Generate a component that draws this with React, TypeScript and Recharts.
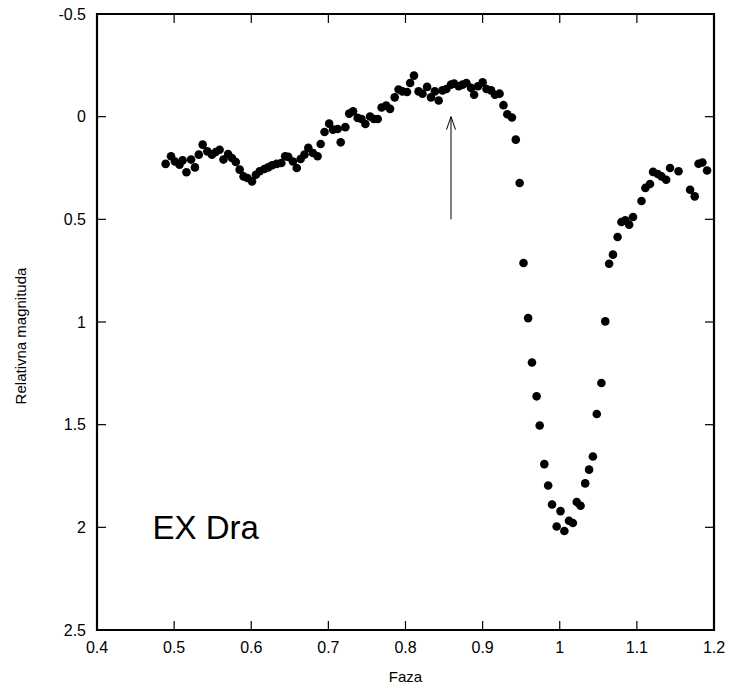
import React from 'react';
import { ScatterChart, Scatter, XAxis, YAxis, ReferenceLine, ReferenceDot } from 'recharts';

const phase = [
  0.489, 0.496, 0.501, 0.507, 0.511, 0.516, 0.522, 0.527, 0.532, 0.537,
  0.543, 0.549, 0.554, 0.559, 0.564, 0.570, 0.575, 0.580, 0.585, 0.590,
  0.595, 0.601, 0.606, 0.611, 0.617, 0.622, 0.627, 0.633, 0.639, 0.644,
  0.648, 0.654, 0.659, 0.664, 0.669, 0.674, 0.680, 0.686, 0.690, 0.695,
  0.701, 0.706, 0.712, 0.716, 0.722, 0.727, 0.732, 0.738, 0.743, 0.748,
  0.754, 0.759, 0.764, 0.769, 0.775, 0.780, 0.786, 0.791, 0.796, 0.802,
  0.806, 0.811, 0.817, 0.822, 0.828, 0.833, 0.838, 0.843, 0.848, 0.853,
  0.859, 0.863, 0.869, 0.874, 0.879, 0.885, 0.889, 0.894, 0.900, 0.905,
  0.911, 0.916, 0.922, 0.927, 0.932, 0.938, 0.943, 0.948, 0.953, 0.959,
  0.964, 0.970, 0.974, 0.980, 0.985, 0.990, 0.996, 1.001, 1.006, 1.012,
  1.017, 1.022, 1.027, 1.033, 1.038, 1.043, 1.048, 1.054, 1.059, 1.064,
  1.069, 1.075, 1.080, 1.085, 1.090, 1.095, 1.106, 1.111, 1.117, 1.121,
  1.127, 1.132, 1.138, 1.143, 1.154, 1.169, 1.175, 1.180, 1.185, 1.191,
];

const magnitude = [
  0.230, 0.193, 0.218, 0.234, 0.213, 0.271, 0.209, 0.247, 0.185, 0.136,
  0.169, 0.185, 0.172, 0.161, 0.209, 0.182, 0.201, 0.221, 0.258, 0.291,
  0.299, 0.315, 0.283, 0.266, 0.255, 0.247, 0.237, 0.230, 0.226, 0.193,
  0.196, 0.218, 0.250, 0.206, 0.185, 0.152, 0.177, 0.193, 0.133, 0.075,
  0.034, 0.063, 0.060, 0.125, 0.051, -0.015, -0.026, 0.006, 0.011, 0.036,
  -0.001, 0.011, 0.011, -0.045, -0.054, -0.038, -0.094, -0.132, -0.123, -0.120,
  -0.164, -0.200, -0.123, -0.112, -0.145, -0.094, -0.123, -0.079, -0.128, -0.135,
  -0.156, -0.161, -0.148, -0.156, -0.164, -0.140, -0.107, -0.148, -0.167, -0.135,
  -0.128, -0.107, -0.112, -0.056, -0.012, 0.004, 0.112, 0.323, 0.713, 0.981,
  1.197, 1.362, 1.504, 1.692, 1.796, 1.889, 1.996, 1.921, 2.018, 1.968,
  1.979, 1.877, 1.895, 1.786, 1.719, 1.655, 1.448, 1.297, 0.997, 0.716,
  0.672, 0.586, 0.513, 0.505, 0.526, 0.489, 0.411, 0.347, 0.328, 0.269,
  0.279, 0.291, 0.307, 0.250, 0.266, 0.356, 0.388, 0.229, 0.223, 0.262,
];

const xTicks = [0.4, 0.5, 0.6, 0.7, 0.8, 0.9, 1, 1.1, 1.2];
const yTicks = [-0.5, 0, 0.5, 1, 1.5, 2, 2.5];
const xDomain = [0.4, 1.2];
const yDomain = [-0.5, 2.5];

const arrowX = 0.859;
const arrowFrom = 0.5;
const arrowTo = 0.0;

const starName = 'EX Dra';
const starNameX = 0.472;
const starNameY = 2.056;

const data = phase.map((p, i) => ({ phase: p, mag: magnitude[i] }));

const FONT = '"Liberation Sans", Arial, Helvetica, sans-serif';
const TICK_LEN = 9;

const Dot = (props: any) => <circle cx={props.cx} cy={props.cy} r={4.3} fill="#000" />;

const XTickMarks = (props: any) => {
  const { x1, y1, x2, y2 } = props;
  const top = Math.min(y1, y2);
  const bottom = Math.max(y1, y2);
  return (
    <g>
      <line x1={x1} y1={top} x2={x1} y2={top + TICK_LEN} stroke="#000" strokeWidth={1.2} />
      <line x1={x2} y1={bottom} x2={x2} y2={bottom - TICK_LEN} stroke="#000" strokeWidth={1.2} />
    </g>
  );
};

const YTickMarks = (props: any) => {
  const { x1, y1, x2, y2 } = props;
  const left = Math.min(x1, x2);
  const right = Math.max(x1, x2);
  return (
    <g>
      <line x1={left} y1={y1} x2={left + TICK_LEN} y2={y1} stroke="#000" strokeWidth={1.2} />
      <line x1={right} y1={y2} x2={right - TICK_LEN} y2={y2} stroke="#000" strokeWidth={1.2} />
    </g>
  );
};

const Frame = (props: any) => {
  const { x1, y1, x2, y2 } = props;
  const l = Math.min(x1, x2);
  const r = Math.max(x1, x2);
  const t = Math.min(y1, y2);
  const b = Math.max(y1, y2);
  return <path d={`M${l},${t}H${r}V${b}H${l}Z`} fill="none" stroke="#000" strokeWidth={2.2} />;
};

const Arrow = (props: any) => {
  const { x1, y1, x2, y2 } = props;
  return (
    <g>
      <line x1={x1} y1={y1} x2={x2} y2={y2} stroke="#000" strokeWidth={1} />
      <polyline
        points={`${x2 - 4.5},${y2 + 13} ${x2},${y2} ${x2 + 4.5},${y2 + 13}`}
        fill="none"
        stroke="#000"
        strokeWidth={1}
      />
    </g>
  );
};

const tickStyle = { fontSize: 16, fill: '#000', fontFamily: FONT };

export default function App() {
  return (
    <div style={{ position: 'absolute', left: 0, top: 0, background: '#fff' }}>
      <ScatterChart width={730} height={689} margin={{ top: 14, right: 16, bottom: 0, left: 0 }}>
        <XAxis
          type="number"
          dataKey="phase"
          domain={xDomain}
          ticks={xTicks}
          orientation="bottom"
          height={59}
          tickSize={0}
          tickMargin={12}
          axisLine={false}
          tickLine={false}
          tick={tickStyle}
          interval={0}
          allowDataOverflow
          label={(p: any) => {
            const vb = p.viewBox;
            return (
              <text x={vb.x + vb.width / 2} y={vb.y + 52} textAnchor="middle" fontSize={15} fontFamily={FONT} fill="#000">
                Faza
              </text>
            );
          }}
        />
        <YAxis
          type="number"
          dataKey="mag"
          domain={yDomain}
          reversed
          ticks={yTicks}
          orientation="left"
          width={97}
          tickSize={0}
          tickMargin={11}
          axisLine={false}
          tickLine={false}
          tick={tickStyle}
          interval={0}
          allowDataOverflow
          label={(p: any) => {
            const vb = p.viewBox;
            const cx = vb.x + 20;
            const cy = vb.y + vb.height / 2 + 14;
            return (
              <text x={cx} y={cy} transform={`rotate(-90 ${cx} ${cy})`} textAnchor="middle" dominantBaseline="central" fontSize={15} fontFamily={FONT} fill="#000">
                Relativna magnituda
              </text>
            );
          }}
        />
        {xTicks.map((t) => (
          <ReferenceLine key={`xt${t}`} x={t} shape={XTickMarks} stroke="#000" ifOverflow="visible" />
        ))}
        {yTicks.map((t) => (
          <ReferenceLine key={`yt${t}`} y={t} shape={YTickMarks} stroke="#000" ifOverflow="visible" />
        ))}
        <Scatter data={data} shape={Dot} isAnimationActive={false} />
        <ReferenceLine
          segment={[{ x: arrowX, y: arrowFrom }, { x: arrowX, y: arrowTo }]}
          shape={Arrow}
          stroke="#000"
        />
        <ReferenceDot
          x={starNameX}
          y={starNameY}
          r={0}
          shape={(p: any) => (
            <text x={p.cx} y={p.cy} fontSize={33} fontFamily={FONT} fill="#000">
              {starName}
            </text>
          )}
        />
        <ReferenceLine
          segment={[{ x: xDomain[0], y: yDomain[0] }, { x: xDomain[1], y: yDomain[1] }]}
          shape={Frame}
          ifOverflow="visible"
        />
      </ScatterChart>
    </div>
  );
}
